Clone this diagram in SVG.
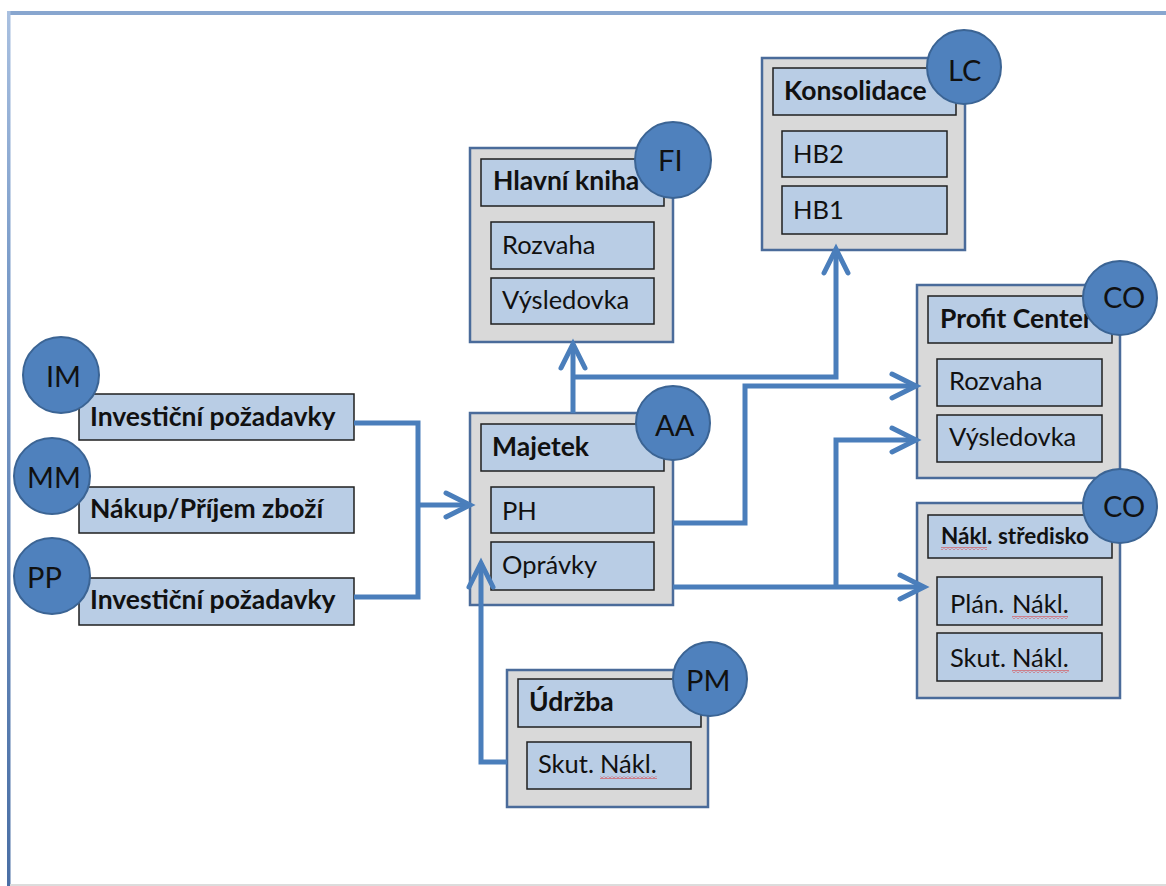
<svg xmlns="http://www.w3.org/2000/svg" width="1166" height="886" viewBox="0 0 1166 886">
<style>
.outer{fill:#d9d9d9;stroke:#4a6b9a;stroke-width:2.5}
.inner{fill:#b9cde5;stroke:#1f1f1f;stroke-width:1.5}
.badge{fill:#4f81bd;stroke:#3b6494;stroke-width:2}
.t{font-family:Lato,"Liberation Sans",sans-serif;font-size:25.5px;fill:#111}
.b{font-weight:bold;font-size:26.5px}
.bl{font-family:Lato,"Liberation Sans",sans-serif;font-size:29px;fill:#111}
.con{fill:none;stroke:#4a7ebb;stroke-width:5;stroke-linejoin:miter}
</style>
<defs>
<marker id="ah" markerUnits="userSpaceOnUse" markerWidth="40" markerHeight="40" viewBox="0 0 40 40" refX="30" refY="20" orient="auto" overflow="visible">
<path d="M6 8 L30 20 L6 32" fill="none" stroke="#4a7ebb" stroke-width="5" stroke-linecap="round" stroke-linejoin="miter"/>
</marker>
<pattern id="wave" width="4" height="3" patternUnits="userSpaceOnUse">
<path d="M0 2.5 L2 0.5 L4 2.5" fill="none" stroke="#e03030" stroke-width="1"/>
</pattern>
<linearGradient id="lg" x1="0" y1="0" x2="0" y2="1">
<stop offset="0" stop-color="#a9c0e0"/>
<stop offset="0.3" stop-color="#7b9cc9"/>
<stop offset="1" stop-color="#4a6fa5"/>
</linearGradient>
</defs>
<g id="frame">
<rect x="0" y="0" width="1166" height="886" fill="#ffffff"/>
<line x1="7" y1="13" x2="1166" y2="13" stroke="#88a6cf" stroke-width="4"/>
<rect x="7" y="11" width="3.5" height="875" fill="url(#lg)"/>
<line x1="10" y1="885" x2="1166" y2="885" stroke="#dcdcdc" stroke-width="2"/>
</g>
<g id="im">
<rect class="inner" x="79" y="394" width="275" height="46"/>
<text class="t b" x="90" y="426">Investiční požadavky</text>
<circle class="badge" cx="61" cy="375" r="38"/>
<text class="bl" x="46" y="387">IM</text>
</g>
<g id="mm">
<rect class="inner" x="79" y="487" width="275" height="46"/>
<text class="t b" x="90" y="518">Nákup/Příjem zboží</text>
<circle class="badge" cx="52" cy="476" r="38"/>
<text class="bl" x="27" y="488">MM</text>
</g>
<g id="pp">
<rect class="inner" x="79" y="578" width="275" height="47"/>
<text class="t b" x="90" y="609">Investiční požadavky</text>
<circle class="badge" cx="52" cy="576" r="38"/>
<text class="bl" x="27" y="588">PP</text>
</g>
<g id="fi">
<rect class="outer" x="470" y="148" width="203" height="194"/>
<rect class="inner" x="481" y="159" width="183" height="47"/>
<text class="t b" x="493" y="190">Hlavní kniha</text>
<rect class="inner" x="491" y="222" width="163" height="47"/>
<text class="t" x="502" y="254">Rozvaha</text>
<rect class="inner" x="491" y="278" width="163" height="46"/>
<text class="t" x="502" y="309">Výsledovka</text>
<circle class="badge" cx="673" cy="160" r="38"/>
<text class="bl" x="658" y="171">FI</text>
</g>
<g id="lc">
<rect class="outer" x="762" y="58" width="203" height="192"/>
<rect class="inner" x="773" y="68" width="183" height="47"/>
<text class="t b" x="784" y="100">Konsolidace</text>
<rect class="inner" x="782" y="131" width="165" height="46"/>
<text class="t" x="793" y="163">HB2</text>
<rect class="inner" x="782" y="186" width="165" height="48"/>
<text class="t" x="793" y="219">HB1</text>
<circle class="badge" cx="964" cy="67" r="37"/>
<text class="bl" x="948" y="81">LC</text>
</g>
<g id="aa">
<rect class="outer" x="470" y="413" width="203" height="192"/>
<rect class="inner" x="481" y="424" width="183" height="47"/>
<text class="t b" x="492" y="456">Majetek</text>
<rect class="inner" x="491" y="487" width="163" height="46"/>
<text class="t" x="502" y="520">PH</text>
<rect class="inner" x="491" y="542" width="163" height="48"/>
<text class="t" x="502" y="574">Oprávky</text>
<circle class="badge" cx="673" cy="423" r="37"/>
<text class="bl" x="655" y="436">AA</text>
</g>
<g id="pc">
<rect class="outer" x="917" y="285" width="203" height="193"/>
<rect class="inner" x="928" y="296" width="184" height="47"/>
<text class="t b" x="940" y="328">Profit Center</text>
<rect class="inner" x="937" y="359" width="165" height="47"/>
<text class="t" x="949" y="390">Rozvaha</text>
<rect class="inner" x="937" y="415" width="165" height="47"/>
<text class="t" x="949" y="446">Výsledovka</text>
<circle class="badge" cx="1120" cy="298" r="37"/>
<text class="bl" x="1103" y="308">CO</text>
</g>
<g id="cc">
<rect class="outer" x="917" y="503" width="203" height="195"/>
<rect class="inner" x="928" y="515" width="184" height="43"/>
<text class="t b" x="941" y="544" style="font-size:22.5px">Nákl. středisko</text>
<rect x="941" y="547" width="46" height="3" fill="url(#wave)"/>
<rect class="inner" x="937" y="577" width="165" height="48"/>
<text class="t" x="950" y="613">Plán. <tspan x="1012">Nákl.</tspan></text>
<rect x="1012" y="616" width="56" height="3" fill="url(#wave)"/>
<rect class="inner" x="937" y="633" width="165" height="48"/>
<text class="t" x="950" y="667">Skut. <tspan x="1012">Nákl.</tspan></text>
<rect x="1012" y="670" width="57" height="3" fill="url(#wave)"/>
<circle class="badge" cx="1120" cy="506" r="37"/>
<text class="bl" x="1103" y="517">CO</text>
</g>
<g id="pm">
<rect class="outer" x="507" y="670" width="201" height="137"/>
<rect class="inner" x="518" y="679" width="183" height="48"/>
<text class="t b" x="529" y="711">Údržba</text>
<rect class="inner" x="527" y="742" width="164" height="47"/>
<text class="t" x="538" y="773">Skut. <tspan x="600">Nákl.</tspan></text>
<rect x="600" y="776" width="57" height="3" fill="url(#wave)"/>
<circle class="badge" cx="710" cy="679" r="37"/>
<text class="bl" x="686" y="691">PM</text>
</g>
<g id="connectors">
<path class="con" d="M354 423 H418 V597 H354"/>
<path class="con" d="M418 505 H470" marker-end="url(#ah)"/>
<path class="con" d="M573 413 V344" marker-end="url(#ah)"/>
<path class="con" d="M573 377 H836 V249" marker-end="url(#ah)"/>
<path class="con" d="M673 523 H745 V386 H916" marker-end="url(#ah)"/>
<path class="con" d="M673 587 H924" marker-end="url(#ah)"/>
<path class="con" d="M836 587 V440 H916" marker-end="url(#ah)"/>
<path class="con" d="M507 762 H481 V563" marker-end="url(#ah)"/>
</g>
</svg>
